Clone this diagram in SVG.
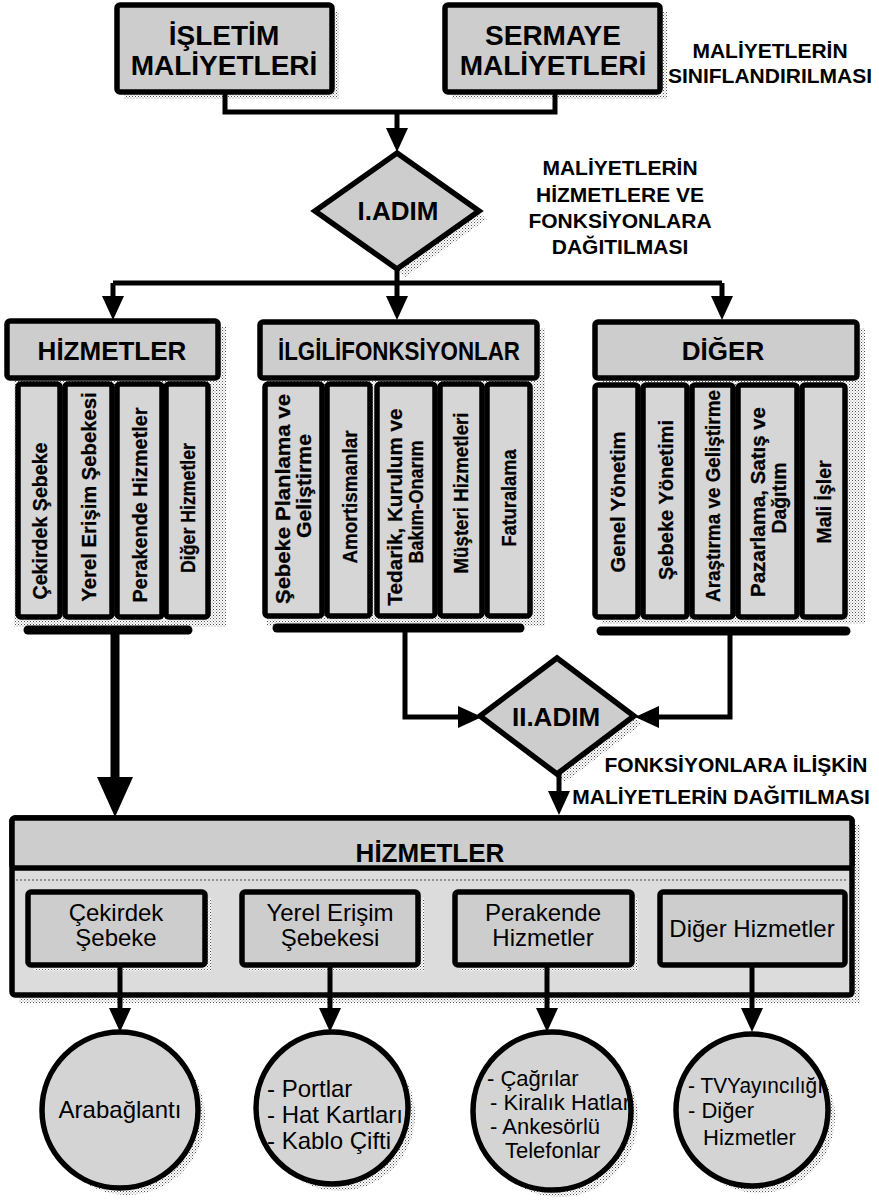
<svg xmlns="http://www.w3.org/2000/svg" width="879" height="1201" viewBox="0 0 879 1201">
  <defs>
    <pattern id="dots" width="3" height="3" patternUnits="userSpaceOnUse">
      <rect width="3" height="3" fill="#ffffff"/>
      <rect width="1" height="1" fill="#555555"/>
      <rect x="1.5" y="1.5" width="1" height="1" fill="#888888"/>
    </pattern>
    <marker id="arr" markerUnits="userSpaceOnUse" viewBox="0 0 24 24" markerWidth="24" markerHeight="24" refX="10" refY="12" orient="auto">
      <path d="M0,1 L24,12 L0,23 Z" fill="#000"/>
    </marker>
    <marker id="arrBig" markerUnits="userSpaceOnUse" viewBox="0 0 40 36" markerWidth="40" markerHeight="36" refX="13" refY="18" orient="auto">
      <path d="M0,0 L40,18 L0,36 Z" fill="#000"/>
    </marker>
  </defs>
  <style>
    .shadow { fill: url(#dots); }
    .box { fill: #cdcdcd; stroke: #000; stroke-width: 5.5; }
    .col { fill: #d6d6d6; stroke: #000; stroke-width: 5.5; }
    .body { fill: #dcdcdc; stroke: #000; stroke-width: 5.5; }
    .circ { fill: #d4d4d4; stroke: #000; stroke-width: 5.5; }
    .bar { stroke: #000; stroke-width: 9; stroke-linecap: round; fill: none; }
    .conn { stroke: #000; stroke-width: 5; fill: none; }
    .thick { stroke: #000; stroke-width: 9; fill: none; }
    text { font-family: "Liberation Sans", Arial, sans-serif; fill: #000; }
    .big { font-size: 28px; font-weight: bold; text-anchor: middle; }
    .hdr { font-size: 26px; font-weight: bold; text-anchor: middle; }
    .step { font-size: 26px; font-weight: bold; text-anchor: middle; }
    .note { font-size: 21px; font-weight: bold; text-anchor: middle; }
    .vt { font-size: 21px; font-weight: bold; text-anchor: middle; stroke: #000; stroke-width: 0.3; }
    .lbl { font-size: 24px; text-anchor: middle; }
    .lst { font-size: 22px; }
  </style>

  <rect width="879" height="1201" fill="#ffffff"/>

  <!-- cost classes -->
  <g id="isletim">
    <rect class="shadow" x="124" y="12" width="215" height="87"/>
    <rect class="box" x="117" y="5" width="215" height="87" rx="3"/>
    <text class="big" x="224" y="45">İŞLETİM</text>
    <text class="big" x="224" y="75">MALİYETLERİ</text>
  </g>
  <g id="sermaye">
    <rect class="shadow" x="452" y="12" width="215" height="87"/>
    <rect class="box" x="445" y="5" width="215" height="87" rx="3"/>
    <text class="big" x="553" y="45">SERMAYE</text>
    <text class="big" x="553" y="75">MALİYETLERİ</text>
  </g>
  <g id="note-siniflandirma">
    <text class="note" x="770" y="58">MALİYETLERİN</text>
    <text class="note" x="770" y="83">SINIFLANDIRILMASI</text>
  </g>

  <!-- step 1 -->
  <g id="adim1">
    <polygon class="shadow" points="405,161 487,219 405,277 323,219"/>
    <polygon class="box" points="397,153 479,211 397,269 315,211"/>
    <text class="step" x="398" y="220">I.ADIM</text>
  </g>
  <g id="note-adim1">
    <text class="note" x="620" y="175">MALİYETLERİN</text>
    <text class="note" x="620" y="202">HİZMETLERE VE</text>
    <text class="note" x="620" y="228">FONKSİYONLARA</text>
    <text class="note" x="620" y="254">DAĞITILMASI</text>
  </g>

  <!-- services -->
  <g id="hizmetler">
    <rect class="shadow" x="14" y="327" width="212" height="300"/>
    <rect class="box" x="7" y="321" width="211" height="57" rx="3"/>
    <text class="hdr" x="112" y="360">HİZMETLER</text>
    <rect class="col" x="18" y="384" width="42" height="233" rx="3"/>
    <rect class="col" x="65" y="384" width="47" height="233" rx="3"/>
    <rect class="col" x="117" y="384" width="45" height="233" rx="3"/>
    <rect class="col" x="166" y="384" width="42" height="233" rx="3"/>
    <text class="vt" transform="translate(39,521) rotate(-90)" y="8" textLength="157" lengthAdjust="spacingAndGlyphs">Çekirdek Şebeke</text>
    <text class="vt" transform="translate(88,497) rotate(-90)" y="8" textLength="209" lengthAdjust="spacingAndGlyphs">Yerel Erişim Şebekesi</text>
    <text class="vt" transform="translate(139,505) rotate(-90)" y="8" textLength="195" lengthAdjust="spacingAndGlyphs">Perakende Hizmetler</text>
    <text class="vt" transform="translate(187,508) rotate(-90)" y="8" textLength="130" lengthAdjust="spacingAndGlyphs">Diğer Hizmetler</text>
    <line class="bar" x1="28" y1="630" x2="188" y2="630"/>
  </g>

  <!-- related functions -->
  <g id="fonksiyonlar">
    <rect class="shadow" x="267" y="328" width="278" height="298"/>
    <rect class="box" x="260" y="322" width="277" height="56" rx="3"/>
    <text class="hdr" x="399" y="360" textLength="242" lengthAdjust="spacingAndGlyphs">İLGİLİFONKSİYONLAR</text>
    <rect class="col" x="265" y="384" width="57" height="232" rx="3"/>
    <rect class="col" x="327" y="384" width="43" height="232" rx="3"/>
    <rect class="col" x="377" y="384" width="58" height="232" rx="3"/>
    <rect class="col" x="440" y="384" width="42" height="232" rx="3"/>
    <rect class="col" x="487" y="384" width="43" height="232" rx="3"/>
    <text class="vt" transform="translate(282,499) rotate(-90)" y="8" textLength="210" lengthAdjust="spacingAndGlyphs">Şebeke Planlama ve</text>
    <text class="vt" transform="translate(303,486) rotate(-90)" y="8" textLength="104" lengthAdjust="spacingAndGlyphs">Geliştirme</text>
    <text class="vt" transform="translate(349,497) rotate(-90)" y="8" textLength="133" lengthAdjust="spacingAndGlyphs">Amortismanlar</text>
    <text class="vt" transform="translate(394,507) rotate(-90)" y="8" textLength="197" lengthAdjust="spacingAndGlyphs">Tedarik, Kurulum ve</text>
    <text class="vt" transform="translate(415,502) rotate(-90)" y="8" textLength="123" lengthAdjust="spacingAndGlyphs">Bakım-Onarım</text>
    <text class="vt" transform="translate(460,493) rotate(-90)" y="8" textLength="161" lengthAdjust="spacingAndGlyphs">Müşteri Hizmetleri</text>
    <text class="vt" transform="translate(508,498) rotate(-90)" y="8" textLength="97" lengthAdjust="spacingAndGlyphs">Faturalama</text>
    <line class="bar" x1="277" y1="628" x2="520" y2="628"/>
  </g>

  <!-- other -->
  <g id="diger">
    <rect class="shadow" x="602" y="328" width="263" height="296"/>
    <rect class="box" x="595" y="322" width="262" height="56" rx="3"/>
    <text class="hdr" x="723" y="360">DİĞER</text>
    <rect class="col" x="595" y="385" width="43" height="232" rx="3"/>
    <rect class="col" x="643" y="385" width="44" height="232" rx="3"/>
    <rect class="col" x="692" y="385" width="41" height="232" rx="3"/>
    <rect class="col" x="738" y="385" width="59" height="232" rx="3"/>
    <rect class="col" x="802" y="385" width="43" height="232" rx="3"/>
    <text class="vt" transform="translate(617,502) rotate(-90)" y="8" textLength="141" lengthAdjust="spacingAndGlyphs">Genel Yönetim</text>
    <text class="vt" transform="translate(665,500) rotate(-90)" y="8" textLength="160" lengthAdjust="spacingAndGlyphs">Şebeke Yönetimi</text>
    <text class="vt" transform="translate(712,496) rotate(-90)" y="8" textLength="212" lengthAdjust="spacingAndGlyphs">Araştırma ve Geliştirme</text>
    <text class="vt" transform="translate(757,502) rotate(-90)" y="8" textLength="190" lengthAdjust="spacingAndGlyphs">Pazarlama, Satış ve</text>
    <text class="vt" transform="translate(778,498) rotate(-90)" y="8" textLength="71" lengthAdjust="spacingAndGlyphs">Dağıtım</text>
    <text class="vt" transform="translate(823,502) rotate(-90)" y="8" textLength="83" lengthAdjust="spacingAndGlyphs">Mali İşler</text>
    <line class="bar" x1="601" y1="631" x2="846" y2="631"/>
  </g>

  <!-- step 2 -->
  <g id="adim2">
    <polygon class="shadow" points="565,666 642,724 565,782 488,724"/>
    <polygon class="box" points="557,658 634,716 557,774 480,716"/>
    <text class="step" x="556" y="726">II.ADIM</text>
  </g>
  <g id="note-adim2">
    <text class="note" x="736" y="772">FONKSİYONLARA İLİŞKİN</text>
    <text class="note" x="721" y="804">MALİYETLERİN DAĞITILMASI</text>
  </g>

  <!-- service costs -->
  <g id="hizmetler-alt">
    <rect class="shadow" x="19" y="825" width="841" height="178"/>
    <rect class="body" x="12" y="818" width="840" height="177" rx="3"/>
    <rect class="box" x="12" y="818" width="840" height="50" rx="3"/>
    <line x1="16" y1="880" x2="848" y2="880" stroke="#777" stroke-width="1.5" stroke-dasharray="2 2"/>
    <text class="hdr" x="430" y="862">HİZMETLER</text>
  </g>
  <g id="cekirdek">
    <rect class="shadow" x="34" y="898" width="177" height="73"/>
    <rect class="box" x="28" y="892" width="177" height="73" rx="3"/>
    <text class="lbl" x="116" y="921">Çekirdek</text>
    <text class="lbl" x="116" y="946">Şebeke</text>
  </g>
  <g id="yerel">
    <rect class="shadow" x="248" y="898" width="176" height="73"/>
    <rect class="box" x="242" y="892" width="176" height="73" rx="3"/>
    <text class="lbl" x="330" y="921">Yerel Erişim</text>
    <text class="lbl" x="330" y="946">Şebekesi</text>
  </g>
  <g id="perakende">
    <rect class="shadow" x="461" y="898" width="177" height="73"/>
    <rect class="box" x="455" y="892" width="177" height="73" rx="3"/>
    <text class="lbl" x="543" y="921">Perakende</text>
    <text class="lbl" x="543" y="946">Hizmetler</text>
  </g>
  <g id="diger-hizmetler">
    <rect class="box" x="660" y="892" width="185" height="73" rx="3"/>
    <text class="lbl" x="752" y="937">Diğer Hizmetler</text>
  </g>

  <!-- outputs -->
  <g id="arabaglanti">
    <circle class="shadow" cx="127" cy="1117" r="78"/>
    <circle class="circ" cx="120" cy="1110" r="78"/>
    <text class="lbl" x="120" y="1118">Arabağlantı</text>
  </g>
  <g id="yerel-cikti">
    <circle class="shadow" cx="339" cy="1115" r="76"/>
    <circle class="circ" cx="332" cy="1108" r="76"/>
    <text class="lbl" x="267" y="1097" style="text-anchor:start">- Portlar</text>
    <text class="lbl" x="267" y="1123" style="text-anchor:start">- Hat Kartları</text>
    <text class="lbl" x="267" y="1149" style="text-anchor:start">- Kablo Çifti</text>
  </g>
  <g id="perakende-cikti">
    <circle class="shadow" cx="559" cy="1118" r="79"/>
    <circle class="circ" cx="552" cy="1111" r="79"/>
    <text class="lst" x="487" y="1086">- Çağrılar</text>
    <text class="lst" x="490" y="1110" textLength="140" lengthAdjust="spacingAndGlyphs">- Kiralık Hatlar</text>
    <text class="lst" x="490" y="1134">- Ankesörlü</text>
    <text class="lst" x="505" y="1158">Telefonlar</text>
  </g>
  <g id="diger-cikti">
    <circle class="shadow" cx="759" cy="1117" r="76"/>
    <circle class="circ" cx="752" cy="1110" r="76"/>
    <text class="lst" x="688" y="1093" textLength="135" lengthAdjust="spacingAndGlyphs">- TVYayıncılığı</text>
    <text class="lst" x="688" y="1118">- Diğer</text>
    <text class="lst" x="703" y="1145">Hizmetler</text>
  </g>

  <!-- connectors -->
  <g id="connectors">
    <path class="conn" d="M225,92 V112 H555 V92"/>
    <path class="conn" d="M397,112 V138" marker-end="url(#arr)"/>
    <path class="conn" d="M397,268 V306" marker-end="url(#arr)"/>
    <path class="conn" d="M113,283 H722"/>
    <path class="conn" d="M113,283 V306" marker-end="url(#arr)"/>
    <path class="conn" d="M722,283 V306" marker-end="url(#arr)"/>
    <path class="thick" d="M115,634 V790" marker-end="url(#arrBig)"/>
    <path class="conn" d="M405,632 V717 H468" marker-end="url(#arr)"/>
    <path class="conn" d="M730,635 V717 H649" marker-end="url(#arr)"/>
    <path class="conn" d="M559,773 V801" marker-end="url(#arr)"/>
    <path class="conn" d="M120,967 V1018" marker-end="url(#arr)"/>
    <path class="conn" d="M330,967 V1018" marker-end="url(#arr)"/>
    <path class="conn" d="M547,967 V1018" marker-end="url(#arr)"/>
    <path class="conn" d="M752,967 V1018" marker-end="url(#arr)"/>
  </g>
</svg>
